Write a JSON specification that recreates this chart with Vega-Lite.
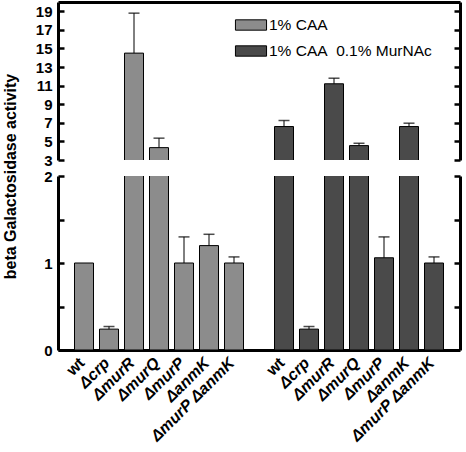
{
  "$schema": "https://vega.github.io/schema/vega-lite/v6.json",
  "padding": {"left": 1, "top": 2, "right": 4, "bottom": 0},
  "bounds": "flush",
  "spacing": 16,
  "config": {
    "view": {"stroke": null},
    "font": "Liberation Sans",
    "axis": {
      "domainColor": "black", "tickColor": "black", "domainWidth": 3, "tickWidth": 2.5,
      "labelFont": "Liberation Sans", "labelFontWeight": "bold", "labelFontSize": 15, "labelColor": "black",
      "titleFont": "Liberation Sans", "titleFontWeight": "bold", "titleFontSize": 16, "titleColor": "black",
      "grid": false
    }
  },
  "datasets": {
    "bars": [
      {"key": "L|wt", "cond": "1% CAA", "value": 1.0, "err": null},
      {"key": "L|Δcrp", "cond": "1% CAA", "value": 0.24, "err": 0.27},
      {"key": "L|ΔmurR", "cond": "1% CAA", "value": 14.5, "err": 18.8},
      {"key": "L|ΔmurQ", "cond": "1% CAA", "value": 4.33, "err": 5.35},
      {"key": "L|ΔmurP", "cond": "1% CAA", "value": 1.0, "err": 1.3},
      {"key": "L|ΔanmK", "cond": "1% CAA", "value": 1.2, "err": 1.33},
      {"key": "L|ΔmurP ΔanmK", "cond": "1% CAA", "value": 1.0, "err": 1.07},
      {"key": "D|wt", "cond": "1% CAA\u00a0 0.1% MurNAc", "value": 6.6, "err": 7.25},
      {"key": "D|Δcrp", "cond": "1% CAA\u00a0 0.1% MurNAc", "value": 0.24, "err": 0.27},
      {"key": "D|ΔmurR", "cond": "1% CAA\u00a0 0.1% MurNAc", "value": 11.2, "err": 11.8},
      {"key": "D|ΔmurQ", "cond": "1% CAA\u00a0 0.1% MurNAc", "value": 4.55, "err": 4.8},
      {"key": "D|ΔmurP", "cond": "1% CAA\u00a0 0.1% MurNAc", "value": 1.06, "err": 1.3},
      {"key": "D|ΔanmK", "cond": "1% CAA\u00a0 0.1% MurNAc", "value": 6.6, "err": 6.96},
      {"key": "D|ΔmurP ΔanmK", "cond": "1% CAA\u00a0 0.1% MurNAc", "value": 1.0, "err": 1.07}
    ]
  },
  "resolve": {"scale": {"color": "independent"}, "legend": {"color": "independent"}},
  "vconcat": [
    {
      "width": 402, "height": 158,
      "data": {"name": "bars"},
      "transform": [{"filter": "datum.value >= 3"}],
      "resolve": {"axis": {"y": "independent"}},
      "encoding": {
        "x": {"field": "key", "type": "nominal", "sort": null,
          "scale": {"domain": ["L|wt","L|Δcrp","L|ΔmurR","L|ΔmurQ","L|ΔmurP","L|ΔanmK","L|ΔmurP ΔanmK","gap","D|wt","D|Δcrp","D|ΔmurR","D|ΔmurQ","D|ΔmurP","D|ΔanmK","D|ΔmurP ΔanmK"], "paddingInner": 0.24, "paddingOuter": 0.66},
          "axis": {"orient": "top", "labels": false, "ticks": false, "title": null, "domainWidth": 3}}
      },
      "layer": [
        {
          "mark": {"type": "bar", "stroke": "black", "strokeWidth": 1, "clip": true},
          "encoding": {
            "y": {"field": "value", "type": "quantitative", "scale": {"domain": [3, 20], "nice": false, "zero": false},
              "axis": {"orient": "left", "values": [3,5,7,9,11,13,15,17,19], "title": null, "tickSize": -6, "labelPadding": 12}},
            "color": {"field": "cond", "type": "nominal",
              "scale": {"domain": ["1% CAA", "1% CAA\u00a0 0.1% MurNAc"], "range": ["#8c8c8c", "#4a4a4a"]},
              "legend": {"orient": "none", "legendX": 182, "legendY": 12, "title": null,
                "symbolType": "M-1.5,-0.5H1.5V0.5H-1.5Z", "symbolSize": 430, "symbolStrokeColor": "black", "symbolStrokeWidth": 1, "symbolOpacity": 1,
                "labelFont": "Liberation Sans", "labelFontSize": 15.5, "labelColor": "black", "labelOffset": 7, "labelLimit": 260, "rowPadding": 6}}
          }
        },
        {
          "mark": {"type": "rule", "color": "black", "strokeWidth": 1, "clip": true},
          "transform": [{"filter": "isValid(datum.err)"}],
          "encoding": {
            "y": {"field": "value", "type": "quantitative", "scale": {"domain": [3, 20], "nice": false, "zero": false},
              "axis": {"orient": "right", "values": [3,5,7,9,11,13,15,17,19], "labels": false, "title": null, "tickSize": -6}},
            "y2": {"field": "err"}
          }
        },
        {
          "mark": {"type": "tick", "color": "black", "thickness": 1.5, "size": 11, "clip": true},
          "transform": [{"filter": "isValid(datum.err)"}],
          "encoding": {
            "y": {"field": "err", "type": "quantitative", "scale": {"domain": [3, 20], "nice": false, "zero": false}, "axis": null}
          }
        }
      ]
    },
    {
      "width": 402, "height": 174,
      "data": {"name": "bars"},
      "resolve": {"axis": {"y": "independent"}},
      "encoding": {
        "x": {"field": "key", "type": "nominal", "sort": null,
          "scale": {"domain": ["L|wt","L|Δcrp","L|ΔmurR","L|ΔmurQ","L|ΔmurP","L|ΔanmK","L|ΔmurP ΔanmK","gap","D|wt","D|Δcrp","D|ΔmurR","D|ΔmurQ","D|ΔmurP","D|ΔanmK","D|ΔmurP ΔanmK"], "paddingInner": 0.24, "paddingOuter": 0.66},
          "axis": {"orient": "bottom", "title": null, "ticks": false, "labelAngle": -45, "labelAlign": "right", "labelBaseline": "middle", "labelPadding": 10, "labelOffset": -2, "labelFontSize": 16, "labelOverlap": false,
            "labelExpr": "datum.value == 'gap' ? '' : split(datum.value, '|')[1]",
            "labelFontStyle": {"condition": {"test": "indexof(datum.value, 'wt') >= 0", "value": "normal"}, "value": "italic"}}}
      },
      "layer": [
        {
          "mark": {"type": "bar", "stroke": "black", "strokeWidth": 1, "clip": true},
          "encoding": {
            "y": {"field": "value", "type": "quantitative", "scale": {"domain": [0, 2], "nice": false},
              "axis": {"orient": "left", "values": [0, 0.5, 1, 1.5, 2], "format": "~g", "labelExpr": "datum.value % 1 == 0 ? datum.label : ''",
                "title": "beta Galactosidase activity", "titleY": 0, "titleX": -43, "titleBaseline": "alphabetic", "titleAngle": -90, "titleAlign": "center",
                "tickSize": -6, "labelPadding": 12}},
            "color": {"field": "cond", "type": "nominal",
              "scale": {"domain": ["1% CAA", "1% CAA\u00a0 0.1% MurNAc"], "range": ["#8c8c8c", "#4a4a4a"]}, "legend": null}
          }
        },
        {
          "mark": {"type": "rule", "color": "black", "strokeWidth": 1, "clip": true},
          "transform": [{"filter": "isValid(datum.err)"}],
          "encoding": {
            "y": {"field": "value", "type": "quantitative", "scale": {"domain": [0, 2], "nice": false},
              "axis": {"orient": "right", "values": [0.5, 1, 1.5, 2], "labels": false, "title": null, "tickSize": -6}},
            "y2": {"field": "err"}
          }
        },
        {
          "mark": {"type": "tick", "color": "black", "thickness": 1.5, "size": 11, "clip": true},
          "transform": [{"filter": "isValid(datum.err)"}],
          "encoding": {
            "y": {"field": "err", "type": "quantitative", "scale": {"domain": [0, 2], "nice": false}, "axis": null}
          }
        }
      ]
    }
  ]
}
